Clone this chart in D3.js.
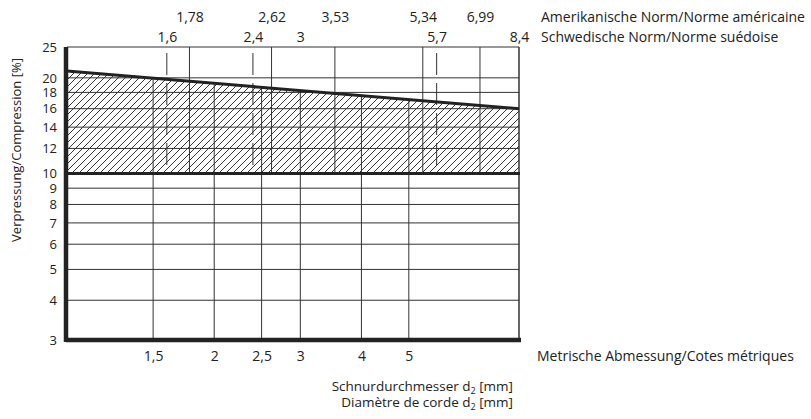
<!DOCTYPE html>
<html>
<head>
<meta charset="utf-8">
<script src="https://cdn.jsdelivr.net/npm/d3@7"></script>
<style>
  body { margin: 0; background: #fff; }
  text { fill: #222; }
</style>
</head>
<body>
<svg id="chart" width="811" height="419"></svg>
<script>
// compression range vs cord diameter (log/log)
const metricTicks   = [1.5, 2, 2.5, 3, 4, 5]
const americanTicks = [1.78, 2.62, 3.53, 5.34, 6.99]
const swedishTicks  = [1.6, 2.4, 3, 5.7, 8.4]
const yTicks        = [3, 4, 5, 6, 7, 8, 9, 10, 12, 14, 16, 18, 20, 25]
const upperX        = [1, 8.4]
const upperY        = [21, 16]
const lowerY        = 10

const FONT = "'Open Sans', sans-serif"
const svg = d3.select('#chart')

const x = d3.scaleLog().domain([1, 8.4]).range([67, 519])
const y = d3.scaleLog().domain([3, 25]).range([340, 47])
const fmt = d => String(d).replace('.', ',')

const upper = upperX.map((d, i) => [d, upperY[i]])
const upperAt = v => {
  // straight line in log/log space
  const t = Math.log(v / upperX[0]) / Math.log(upperX[1] / upperX[0])
  return upperY[0] * Math.pow(upperY[1] / upperY[0], t)
}

// hatch pattern
const defs = svg.append('defs')
defs.append('pattern')
    .attr('id', 'hatch')
    .attr('patternUnits', 'userSpaceOnUse')
    .attr('width', 7).attr('height', 7)
  .append('path')
    .attr('d', 'M0,7 L7,0 M-1,1 L1,-1 M6,8 L8,6')
    .attr('stroke', '#222')
    .attr('stroke-width', 0.9)

const area = d3.area()
  .x(d => x(d[0]))
  .y0(y(lowerY))
  .y1(d => y(d[1]))
svg.append('path')
   .datum(upper)
   .attr('d', area)
   .attr('fill', 'url(#hatch)')

const grid = svg.append('g').attr('stroke', '#333').attr('stroke-width', 1)

// horizontal grid
grid.selectAll('line.h')
    .data(yTicks.filter(d => d !== 3 && d !== lowerY))
    .join('line')
    .attr('x1', x(1)).attr('x2', x(8.4))
    .attr('y1', d => y(d)).attr('y2', d => y(d))

// metric verticals: bottom up to the upper limit line
grid.selectAll('line.m')
    .data(metricTicks)
    .join('line')
    .attr('x1', d => x(d)).attr('x2', d => x(d))
    .attr('y1', y(3)).attr('y2', d => y(upperAt(d)))

// american verticals: top down to 10 %
grid.selectAll('line.a')
    .data(americanTicks)
    .join('line')
    .attr('x1', d => x(d)).attr('x2', d => x(d))
    .attr('y1', y(25)).attr('y2', y(lowerY))

// swedish verticals (dashed), skip those on other lines
grid.selectAll('line.s')
    .data(swedishTicks.filter(d => !metricTicks.includes(d) && d !== 8.4))
    .join('line')
    .attr('x1', d => x(d)).attr('x2', d => x(d))
    .attr('y1', y(25) + 6).attr('y2', y(lowerY))
    .attr('stroke-dasharray', '22,8')

// right border
grid.append('line')
    .attr('x1', x(8.4)).attr('x2', x(8.4))
    .attr('y1', y(25)).attr('y2', y(3))
    .attr('stroke-width', 1.5)

// heavy lines
svg.append('line')
   .attr('x1', x(1)).attr('x2', x(8.4) + 1)
   .attr('y1', y(lowerY)).attr('y2', y(lowerY))
   .attr('stroke', '#222').attr('stroke-width', 3)

svg.append('path')
   .datum(upper)
   .attr('d', d3.line().x(d => x(d[0])).y(d => y(d[1])))
   .attr('fill', 'none')
   .attr('stroke', '#222').attr('stroke-width', 3)

svg.append('line')
   .attr('x1', x(1) - 1).attr('x2', x(8.4) + 2)
   .attr('y1', y(3)).attr('y2', y(3))
   .attr('stroke', '#222').attr('stroke-width', 4.5)

svg.append('line')
   .attr('x1', x(1) - 1).attr('x2', x(1) - 1)
   .attr('y1', y(25)).attr('y2', y(3) + 2)
   .attr('stroke', '#222').attr('stroke-width', 4.5)

// axes (labels only)
function styleAxis(g, size) {
  g.select('.domain').remove()
  g.selectAll('.tick line').remove()
  g.attr('font-family', FONT).attr('font-size', size || 14)
  g.selectAll('text').attr('fill', '#222')
}

svg.append('g')
   .attr('transform', `translate(${x(1)},0)`)
   .call(d3.axisLeft(y).tickValues(yTicks).tickFormat(fmt).tickSize(0).tickPadding(10))
   .call(styleAxis, 13)

svg.append('g')
   .attr('transform', `translate(0,${y(3)})`)
   .call(d3.axisBottom(x).tickValues(metricTicks).tickFormat(fmt).tickSize(0).tickPadding(11))
   .call(styleAxis)

svg.append('g')
   .attr('transform', 'translate(0,22)')
   .call(d3.axisTop(x).tickValues(americanTicks).tickFormat(fmt).tickSize(0).tickPadding(0))
   .call(styleAxis)

svg.append('g')
   .attr('transform', 'translate(0,42)')
   .call(d3.axisTop(x).tickValues(swedishTicks).tickFormat(fmt).tickSize(0).tickPadding(0))
   .call(styleAxis)

// side captions
const cap = svg.append('g').attr('font-family', FONT).attr('font-size', 14)
cap.append('text').attr('x', 541).attr('y', 22).text('Amerikanische Norm/Norme américaine')
cap.append('text').attr('x', 541).attr('y', 42).text('Schwedische Norm/Norme suédoise')
cap.append('text').attr('x', 537).attr('y', 361).text('Metrische Abmessung/Cotes métriques')

function dLabel(yy, before) {
  const t = cap.append('text').attr('x', 513).attr('y', yy)
    .attr('text-anchor', 'end').attr('font-size', 13.5)
  t.append('tspan').text(before + ' d')
  t.append('tspan').attr('font-size', 9).attr('dy', 2.5).text('2')
  t.append('tspan').attr('dy', -2.5).text(' [mm]')
}
dLabel(391, 'Schnurdurchmesser')
dLabel(407, 'Diamètre de corde')

cap.append('text')
   .attr('transform', 'translate(21,150) rotate(-90)')
   .attr('text-anchor', 'middle')
   .attr('font-size', 13)
   .text('Verpressung/Compression [%]')
</script>
</body>
</html>
